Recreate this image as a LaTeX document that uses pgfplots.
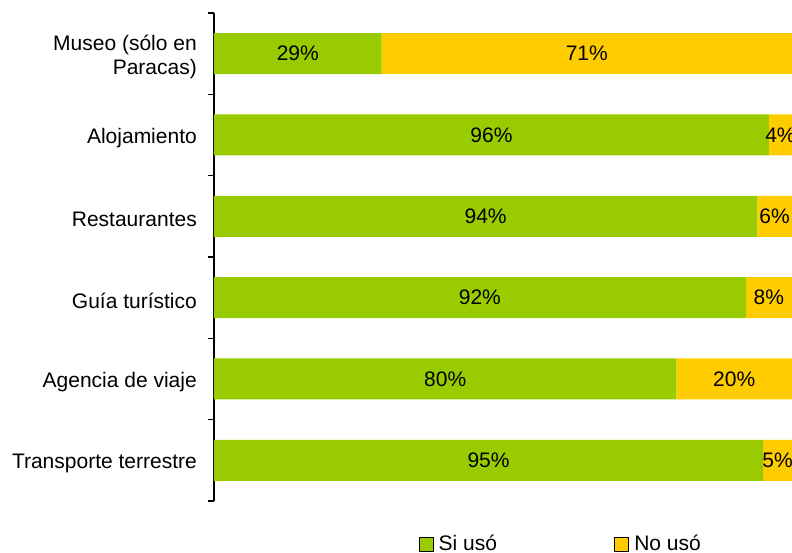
\documentclass[border=0pt]{standalone}
\usepackage{pgfplots}
\pgfplotsset{compat=1.18}
\usepackage{fontspec}
\setmainfont{Liberation Sans}
\definecolor{siuso}{RGB}{153,204,0}
\definecolor{nouso}{RGB}{255,204,0}
\begin{document}
\begin{tikzpicture}[font=\fontsize{21}{24}\selectfont]
\useasboundingbox (-214pt,-53pt) rectangle (578pt,500pt);
\begin{axis}[
  at={(0,-1pt)}, anchor=south west,
  scale only axis, width=578pt, height=488pt,
  xbar stacked, bar width=41pt,
  xmin=0, xmax=100, ymin=-0.5, ymax=5.5,
  axis x line=none, axis y line*=left,
  axis line style={line width=1.2pt},
  ytick={0,...,5},
  yticklabels={Transporte terrestre, Agencia de viaje, Guía turístico, Restaurantes, Alojamiento, {Museo (sólo en\\Paracas)}},
  yticklabel style={align=right, inner sep=0pt, xshift=-17pt, yshift=-3pt},
  major tick length=0pt,
  tick align=outside,
  extra y ticks={-0.5,0.5,...,5.5},
  extra y tick labels={},
  extra y tick style={major tick length=6pt, tick style={line width=1.2pt, black}},
  % stacked bars put these labels in the middle of each segment
  nodes near coords={\pgfmathprintnumber{\pgfplotspointmeta}\%},
  /pgf/number format/assume math mode=true,
  every node near coord/.append style={anchor=center, text=black},
  legend columns=2,
  legend style={draw=none, fill=none, at={(0.3535,-0.088)}, anchor=west, inner sep=0pt,
    /tikz/every even column/.append style={column sep=115pt}},
  legend image code/.code={\draw[#1] (0pt,-7pt) rectangle (14pt,7pt); \path (18pt,0pt);},
]
\addplot[fill=siuso, draw=none] coordinates {(95,0) (80,1) (92,2) (94,3) (96,4) (29,5)};
\addplot[fill=nouso, draw=none] coordinates {(5,0) (20,1) (8,2) (6,3) (4,4) (71,5)};
\legend{Si usó, No usó}
\end{axis}
\end{tikzpicture}
\end{document}
